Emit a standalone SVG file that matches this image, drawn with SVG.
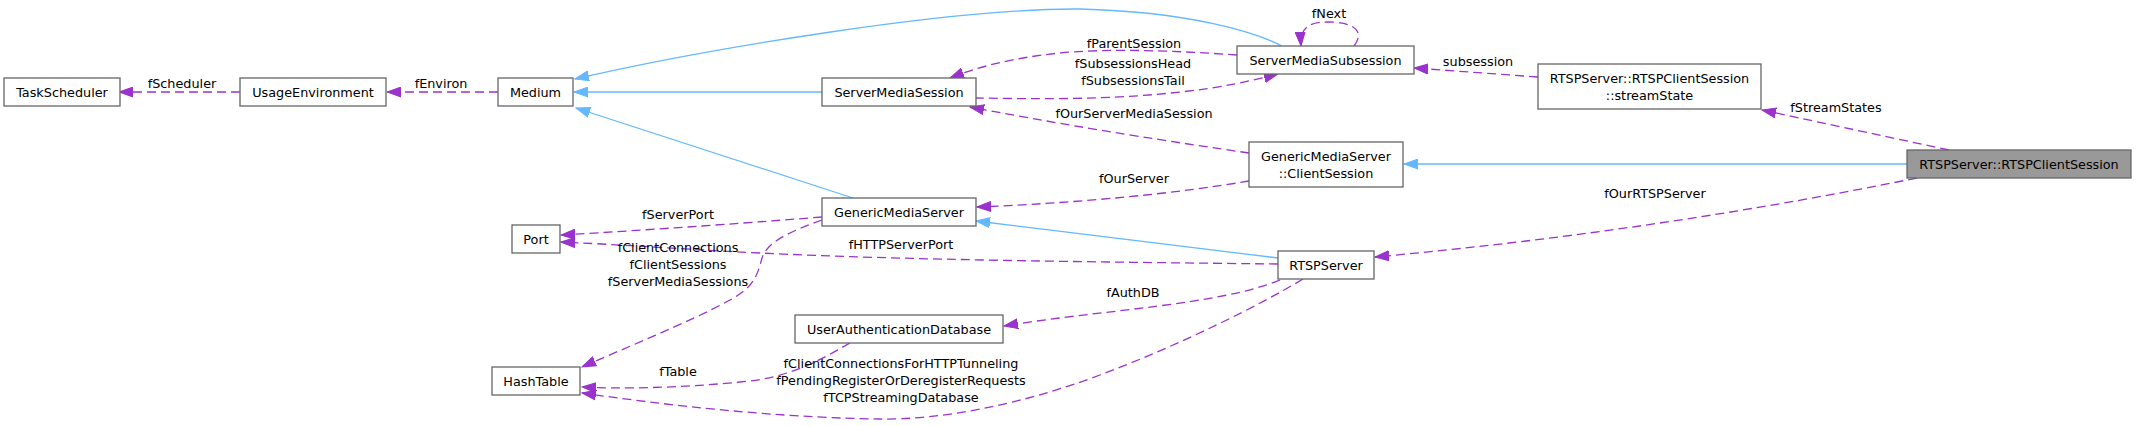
<svg xmlns="http://www.w3.org/2000/svg" width="2136" height="426" viewBox="0 0 2136 426">
<style>
.box{fill:#ffffff;stroke:#666666;stroke-width:1.3}
.sel{fill:#999999;stroke:#666666;stroke-width:1.3}
text{font-family:"DejaVu Sans","Liberation Sans",sans-serif;font-size:12.8px;fill:#000000}
.nt{text-anchor:middle}
.lb{text-anchor:middle}
.inh{fill:none;stroke:#63b8ff;stroke-width:1.3;marker-end:url(#ab)}
.mem{fill:none;stroke:#9a32cd;stroke-width:1.3;stroke-dasharray:9,5;marker-end:url(#ap)}
</style>
<defs>
<marker id="ab" markerUnits="userSpaceOnUse" markerWidth="15" markerHeight="11" refX="14" refY="5.5" orient="auto"><path d="M0,0.5 L14,5.5 L0,10.5 z" fill="#63b8ff" stroke="#63b8ff" stroke-width="1"/></marker>
<marker id="ap" markerUnits="userSpaceOnUse" markerWidth="15" markerHeight="11" refX="14" refY="5.5" orient="auto"><path d="M0,0.5 L14,5.5 L0,10.5 z" fill="#9a32cd" stroke="#9a32cd" stroke-width="1"/></marker>
</defs>
<rect width="2136" height="426" fill="#ffffff"/>
<g id="connectors">
<path class="inh" d="M1282,46 C1255,32 1190,12 1080,9 C950,8 700,50 575,79"/>
<path class="inh" d="M822,92 L574,92"/>
<path class="inh" d="M853,198 L576,108"/>
<path class="inh" d="M1278,258 L976,221"/>
<path class="inh" d="M1907,164 L1404,164"/>
<path class="mem" d="M240,92 L119,92"/>
<path class="mem" d="M498,92 L387,92"/>
<path class="mem" d="M1237,55 C1180,51 1110,48 1060,53 C1010,58 975,68 950,78"/>
<path class="mem" d="M975,98 C1040,99 1110,100 1180,92 C1220,88 1255,80 1278,74"/>
<path class="mem" d="M1354,46 C1365,32 1355,22 1328,22 C1306,22 1300,30 1301,46"/>
<path class="mem" d="M1538,77 L1414,68"/>
<path class="mem" d="M1949,150 L1762,110"/>
<path class="mem" d="M1249,153 C1180,143 1080,128 970,107"/>
<path class="mem" d="M1249,181 C1180,193 1080,203 977,207"/>
<path class="mem" d="M1917,178 Q1650,232 1375,257"/>
<path class="mem" d="M822,217 C760,222 650,230 561,235"/>
<path class="mem" d="M1278,264 C1100,262 900,260 760,253 C680,249 610,244 561,242"/>
<path class="mem" d="M822,220 C795,230 768,240 762,258 C757,278 752,288 730,300 C690,322 620,350 582,367"/>
<path class="mem" d="M1280,280 C1220,305 1100,310 1004,326"/>
<path class="mem" d="M850,343 C820,360 790,378 740,382 C680,388 620,389 582,387"/>
<path class="mem" d="M1303,279 C1260,305 1180,345 1100,375 C1020,405 940,420 880,419 C800,418 700,410 582,393"/>
<text class="lb" x="182" y="87.5">fScheduler</text>
<text class="lb" x="441" y="87.5">fEnviron</text>
<text class="lb" x="1329" y="17.5">fNext</text>
<text class="lb" x="1134" y="47.5">fParentSession</text>
<text class="lb" x="1133" y="67.5">fSubsessionsHead</text>
<text class="lb" x="1133" y="84.5">fSubsessionsTail</text>
<text class="lb" x="1134" y="117.5">fOurServerMediaSession</text>
<text class="lb" x="1478" y="65.5">subsession</text>
<text class="lb" x="1836" y="111.5">fStreamStates</text>
<text class="lb" x="1134" y="182.5">fOurServer</text>
<text class="lb" x="1655" y="197.5">fOurRTSPServer</text>
<text class="lb" x="678" y="218.5">fServerPort</text>
<text class="lb" x="901" y="248.5">fHTTPServerPort</text>
<text class="lb" x="678" y="251.5">fClientConnections</text>
<text class="lb" x="678" y="268.5">fClientSessions</text>
<text class="lb" x="678" y="285.5">fServerMediaSessions</text>
<text class="lb" x="1133" y="296.5">fAuthDB</text>
<text class="lb" x="678" y="375.5">fTable</text>
<text class="lb" x="901" y="367.5">fClientConnectionsForHTTPTunneling</text>
<text class="lb" x="901" y="384.5">fPendingRegisterOrDeregisterRequests</text>
<text class="lb" x="901" y="401.5">fTCPStreamingDatabase</text>
</g>
<g id="TaskScheduler"><rect class="box" x="4" y="78" width="116" height="28"/><text class="nt" x="62" y="96.5">TaskScheduler</text></g>
<g id="UsageEnvironment"><rect class="box" x="240" y="78" width="146" height="28"/><text class="nt" x="313" y="96.5">UsageEnvironment</text></g>
<g id="Medium"><rect class="box" x="498" y="78" width="75" height="28"/><text class="nt" x="535.5" y="96.5">Medium</text></g>
<g id="ServerMediaSession"><rect class="box" x="822" y="78" width="154" height="28"/><text class="nt" x="899" y="96.5">ServerMediaSession</text></g>
<g id="ServerMediaSubsession"><rect class="box" x="1237" y="46" width="177" height="28"/><text class="nt" x="1325.5" y="64.5">ServerMediaSubsession</text></g>
<g id="streamState"><rect class="box" x="1538" y="64" width="223" height="45"/><text class="nt" x="1649.5" y="82.5">RTSPServer::RTSPClientSession</text><text class="nt" x="1649.5" y="99.5">::streamState</text></g>
<g id="ClientSession"><rect class="box" x="1249" y="142" width="154" height="45"/><text class="nt" x="1326" y="160.5">GenericMediaServer</text><text class="nt" x="1326" y="177.5">::ClientSession</text></g>
<g id="RTSPClientSession"><rect class="sel" x="1907" y="150" width="224" height="28"/><text class="nt" x="2019" y="168.5">RTSPServer::RTSPClientSession</text></g>
<g id="GenericMediaServer"><rect class="box" x="822" y="198" width="154" height="28"/><text class="nt" x="899" y="216.5">GenericMediaServer</text></g>
<g id="Port"><rect class="box" x="512" y="225" width="48" height="28"/><text class="nt" x="536" y="243.5">Port</text></g>
<g id="RTSPServer"><rect class="box" x="1278" y="251" width="96" height="28"/><text class="nt" x="1326" y="269.5">RTSPServer</text></g>
<g id="UserAuthenticationDatabase"><rect class="box" x="795" y="315" width="208" height="28"/><text class="nt" x="899" y="333.5">UserAuthenticationDatabase</text></g>
<g id="HashTable"><rect class="box" x="492" y="367" width="88" height="28"/><text class="nt" x="536" y="385.5">HashTable</text></g>
</svg>
